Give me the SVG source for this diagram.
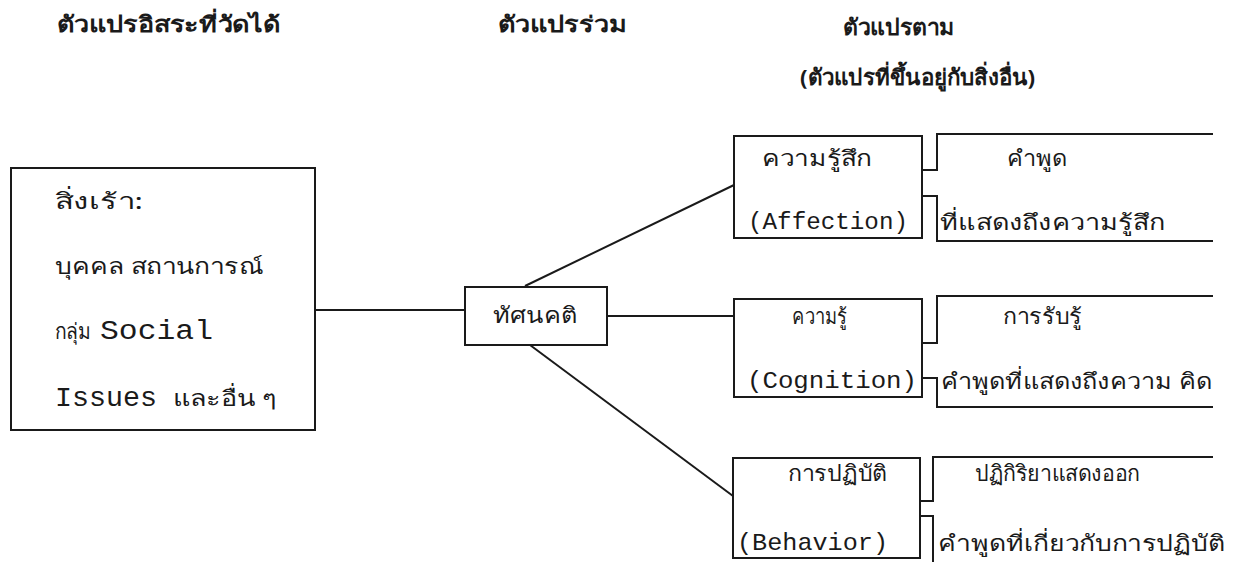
<svg xmlns="http://www.w3.org/2000/svg" width="1256" height="562" viewBox="0 0 1256 562">
<style>
.bg{fill:#ffffff}
.box{fill:none;stroke:#1a1a1a;stroke-width:2}
.ln{fill:none;stroke:#1a1a1a;stroke-width:2}
.hd{font-family:"Noto Sans","DejaVu Sans",sans-serif;font-size:22px;font-weight:bold;fill:#1a1a1a}
.th{font-family:"Noto Sans","DejaVu Sans",sans-serif;font-size:22px;fill:#1a1a1a}
.en{font-family:"Liberation Mono","DejaVu Sans Mono",monospace;font-size:24px;fill:#1a1a1a}
.enl{font-family:"Liberation Mono","DejaVu Sans Mono",monospace;font-size:27px;fill:#1a1a1a}
</style>
<rect class="bg" x="0" y="0" width="1256" height="562"/>
<g id="headers">
<text class="hd" x="57" y="32" textLength="223" lengthAdjust="spacingAndGlyphs">ตัวแปรอิสระที่วัดได้</text>
<text class="hd" x="498" y="32" textLength="129" lengthAdjust="spacingAndGlyphs">ตัวแปรร่วม</text>
<text class="hd" x="843" y="35" textLength="112" lengthAdjust="spacingAndGlyphs">ตัวแปรตาม</text>
<text class="hd" x="800" y="85" textLength="235" lengthAdjust="spacingAndGlyphs">(ตัวแปรที่ขึ้นอยู่กับสิ่งอื่น)</text>
</g>
<g id="connectors">
<path class="ln" d="M315,310 H465"/>
<path class="ln" d="M525,286 L734,185"/>
<path class="ln" d="M607,316 H734"/>
<path class="ln" d="M530,345 L733,496"/>
<path class="ln" d="M922,170 H937 V134 H1213"/>
<path class="ln" d="M922,196 H937 V241 H1213"/>
<path class="ln" d="M922,343 H937 V296 H1213"/>
<path class="ln" d="M922,378 H937 V407 H1213"/>
<path class="ln" d="M920,501 H933 V457 H1213"/>
<path class="ln" d="M920,516 H933 V562"/>
</g>
<g id="stimulus">
<rect class="box" x="11" y="168" width="304" height="262"/>
<text class="th" x="55" y="209" textLength="88" lengthAdjust="spacingAndGlyphs">สิ่งเร้า:</text>
<text class="th" x="55" y="274" textLength="208" lengthAdjust="spacingAndGlyphs">บุคคล สถานการณ์</text>
<text class="th" x="55" y="339" textLength="36" lengthAdjust="spacingAndGlyphs">กลุ่ม</text>
<text class="enl" x="100" y="339" textLength="113" lengthAdjust="spacingAndGlyphs">Social</text>
<text class="enl" x="55" y="406" textLength="102" lengthAdjust="spacingAndGlyphs">Issues</text>
<text class="th" x="173" y="406" textLength="104" lengthAdjust="spacingAndGlyphs">และอื่น ๆ</text>
</g>
<g id="attitude">
<rect class="box" x="465" y="287" width="142" height="58"/>
<text class="th" x="493" y="323" textLength="84" lengthAdjust="spacingAndGlyphs">ทัศนคติ</text>
</g>
<g id="affection">
<rect class="box" x="734" y="136" width="188" height="102"/>
<text class="th" x="762" y="166" textLength="110" lengthAdjust="spacingAndGlyphs">ความรู้สึก</text>
<text class="en" x="748" y="229" textLength="160" lengthAdjust="spacingAndGlyphs">(Affection)</text>
</g>
<g id="affection-out">
<text class="th" x="1007" y="166" textLength="60" lengthAdjust="spacingAndGlyphs">คำพูด</text>
<text class="th" x="940" y="230" textLength="225" lengthAdjust="spacingAndGlyphs">ที่แสดงถึงความรู้สึก</text>
</g>
<g id="cognition">
<rect class="box" x="734" y="299" width="188" height="98"/>
<text class="th" x="792" y="324" textLength="55" lengthAdjust="spacingAndGlyphs">ความรู้</text>
<text class="en" x="747" y="388" textLength="170" lengthAdjust="spacingAndGlyphs">(Cognition)</text>
</g>
<g id="cognition-out">
<text class="th" x="1003" y="324" textLength="79" lengthAdjust="spacingAndGlyphs">การรับรู้</text>
<text class="th" x="941" y="389" textLength="271" lengthAdjust="spacingAndGlyphs">คำพูดที่แสดงถึงความ คิด</text>
</g>
<g id="behavior">
<rect class="box" x="733" y="458" width="187" height="100"/>
<text class="th" x="788" y="481" textLength="99" lengthAdjust="spacingAndGlyphs">การปฏิบัติ</text>
<text class="en" x="737" y="550" textLength="151" lengthAdjust="spacingAndGlyphs">(Behavior)</text>
</g>
<g id="behavior-out">
<text class="th" x="975" y="481" textLength="165" lengthAdjust="spacingAndGlyphs">ปฏิกิริยาแสดงออก</text>
<text class="th" x="938" y="551" textLength="287" lengthAdjust="spacingAndGlyphs">คำพูดที่เกี่ยวกับการปฏิบัติ</text>
</g>
</svg>
